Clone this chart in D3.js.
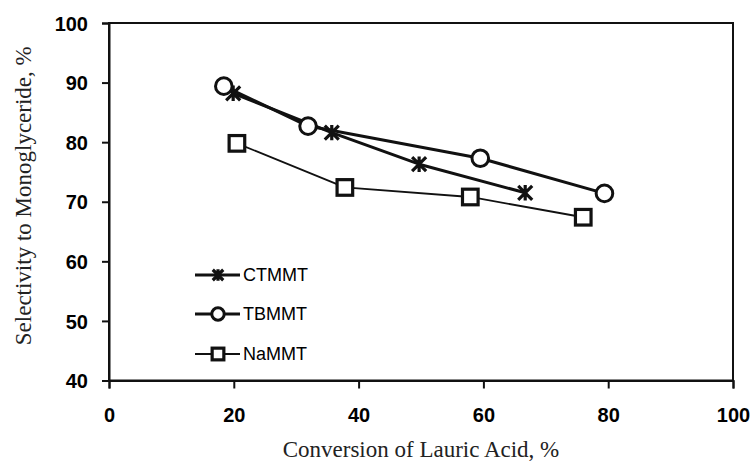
<!DOCTYPE html>
<html><head><meta charset="utf-8">
<script src="https://cdn.jsdelivr.net/npm/d3@7/dist/d3.min.js"></script>
<style>body{margin:0;background:#fff}svg{display:block}</style>
</head><body>
<svg id="c" width="752" height="464"></svg>
<script>
const seriesNames = ["CTMMT", "TBMMT", "NaMMT"];
const ctmmtX = [19.9, 35.7, 49.7, 66.7];
const ctmmtY = [88.2, 81.6, 76.3, 71.5];
const tbmmtX = [18.4, 31.9, 59.5, 79.4];
const tbmmtY = [89.4, 82.7, 77.3, 71.4];
const nammtX = [20.5, 37.8, 57.9, 76.0];
const nammtY = [79.8, 72.4, 70.8, 67.4];
const xTicks = [0, 20, 40, 60, 80, 100];
const yTicks = [40, 50, 60, 70, 80, 90, 100];
const xTitle = "Conversion of Lauric Acid, %";
const yTitle = "Selectivity to Monoglyceride, %";

const svg = d3.select("#c");
const L = 109, R = 733, T = 23, B = 380.5;
const x = d3.scaleLinear().domain([0, 100]).range([L, R]);
const y = d3.scaleLinear().domain([40, 100]).range([B, T]);
const ink = "#111";

// frame
svg.append("rect").attr("x", L).attr("y", T).attr("width", R - L).attr("height", B - T)
  .attr("fill", "none").attr("stroke", ink).attr("stroke-width", 2);

const xAxis = svg.append("g").attr("transform", `translate(0,${B})`)
  .call(d3.axisBottom(x).tickValues(xTicks).tickSize(8).tickPadding(19).tickFormat(d3.format("d")));
const yAxis = svg.append("g").attr("transform", `translate(${L},0)`)
  .call(d3.axisLeft(y).tickValues(yTicks).tickSize(7).tickPadding(14).tickFormat(d3.format("d")));
[xAxis, yAxis].forEach(g => {
  g.select(".domain").attr("stroke", ink).attr("stroke-width", 2);
  g.selectAll(".tick line").attr("stroke", ink).attr("stroke-width", 2);
  g.selectAll(".tick text").attr("fill", "#000")
    .style("font-family", "'Liberation Sans', Arial, sans-serif")
    .style("font-weight", "bold").style("font-size", "20px");
});
yAxis.selectAll(".tick text").attr("dy", "0.36em");
xAxis.selectAll(".tick text").attr("dy", "0.71em");

// titles
svg.append("text").attr("x", (L + R) / 2).attr("y", 457).attr("text-anchor", "middle")
  .style("font-family", "'Liberation Serif', 'Times New Roman', serif").style("font-size", "23px")
  .attr("fill", "#222").text(xTitle);
svg.append("text").attr("transform", `translate(31,${(T + B) / 2 - 6}) rotate(-90)`)
  .attr("text-anchor", "middle")
  .style("font-family", "'Liberation Serif', 'Times New Roman', serif").style("font-size", "23px")
  .attr("fill", "#222").text(yTitle);

const series = [
  { name: seriesNames[0], xs: ctmmtX, ys: ctmmtY, marker: "star", lw: 3 },
  { name: seriesNames[1], xs: tbmmtX, ys: tbmmtY, marker: "circle", lw: 3 },
  { name: seriesNames[2], xs: nammtX, ys: nammtY, marker: "square", lw: 1.8 }
];

function drawMarker(g, type, cx, cy, s) {
  if (type === "circle") {
    g.append("circle").attr("cx", cx).attr("cy", cy).attr("r", 8.3 * s)
      .attr("fill", "#fff").attr("stroke", ink).attr("stroke-width", 3);
  } else if (type === "square") {
    const h = 7.8 * s;
    g.append("rect").attr("x", cx - h).attr("y", cy - h).attr("width", 2 * h).attr("height", 2 * h)
      .attr("fill", "#fff").attr("stroke", ink).attr("stroke-width", 3.2);
  } else {
    const a = 7 * s;
    const p = `M${cx - a},${cy - a}L${cx + a},${cy + a}M${cx - a},${cy + a}L${cx + a},${cy - a}M${cx},${cy - a * 1.1}L${cx},${cy + a * 1.1}`;
    g.append("path").attr("d", p).attr("fill", "none").attr("stroke", ink).attr("stroke-width", 3.2);
  }
}

const line = d3.line().x(d => x(d[0])).y(d => y(d[1]));
series.forEach(s => {
  const pts = s.xs.map((v, i) => [v, s.ys[i]]);
  svg.append("path").attr("d", line(pts)).attr("fill", "none").attr("stroke", ink)
    .attr("stroke-width", s.lw).attr("stroke-linejoin", "round");
});
series.forEach(s => {
  const g = svg.append("g");
  s.xs.forEach((v, i) => drawMarker(g, s.marker, x(v), y(s.ys[i]), 1));
});

// legend
const legY = [275, 314, 354];
series.forEach((s, i) => {
  const g = svg.append("g");
  g.append("line").attr("x1", 195).attr("x2", 240).attr("y1", legY[i]).attr("y2", legY[i])
    .attr("stroke", ink).attr("stroke-width", s.lw === 3 ? 3 : 2.2);
  drawMarker(g, s.marker, 218, legY[i], 0.75);
  g.append("text").attr("x", 243).attr("y", legY[i]).attr("dy", "0.36em")
    .style("font-family", "'Liberation Sans', Arial, sans-serif").style("font-size", "18px")
    .attr("fill", "#000").text(s.name);
});
</script>
</body></html>
